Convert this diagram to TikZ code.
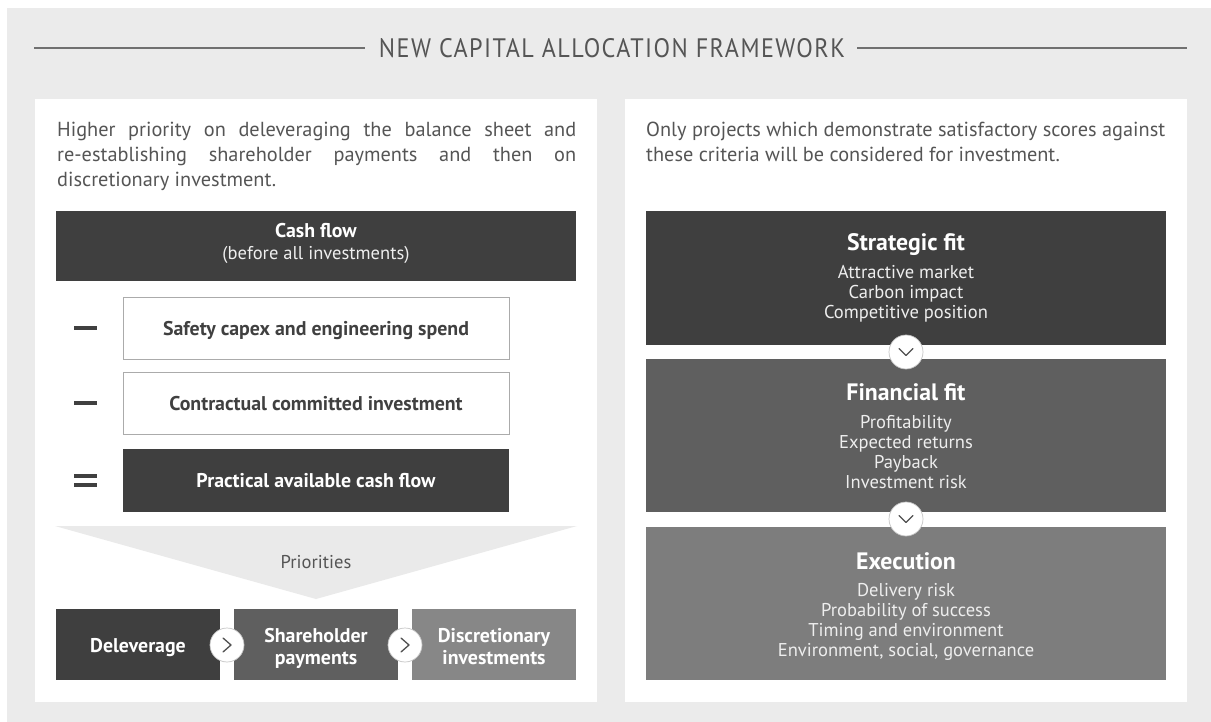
\documentclass[tikz,border=0pt]{standalone}
\usepackage{fontspec}
\usepackage{graphicx}
\setmainfont{PT Sans}
\newfontfamily\titlefont[LetterSpace=6]{PT Sans}
\definecolor{bgc}{HTML}{EBEBEB}
\definecolor{darkc}{HTML}{3F3F3F}
\definecolor{midc}{HTML}{5F5F5F}
\definecolor{lightc}{HTML}{7D7D7D}
\definecolor{discc}{HTML}{878787}
\definecolor{txt}{HTML}{555555}
\definecolor{lbl}{HTML}{404040}
\definecolor{rulec}{HTML}{707070}
\definecolor{boxline}{HTML}{ABABAB}
\definecolor{funnelc}{HTML}{EAEAEA}
\definecolor{itemc}{HTML}{EEEEEE}
\definecolor{chevc}{HTML}{505050}
\definecolor{circc}{HTML}{C4C4C4}
\begin{document}
\newlength\mw
\newcommand\calcsize[4]{\settowidth\mw{\fontsize{10pt}{12pt}\selectfont#2#4}\pgfmathsetmacro#1{10*#3/\mw}}
\calcsize\bodysz{}{519}{Only projects which demonstrate satisfactory scores against}
\calcsize\boldsz{\bfseries}{306}{Safety capex and engineering spend}
\calcsize\itemsz{}{164}{Competitive position}
\calcsize\headsz{\bfseries}{118}{Strategic fit}
\begin{tikzpicture}[x=1pt,y=-1pt,
  body/.style={font=\fontsize{\bodysz}{\bodysz}\selectfont, text=txt, inner sep=0, anchor=base west},
  blbl/.style={font=\fontsize{\boldsz}{\boldsz}\selectfont\bfseries, inner sep=0, anchor=mid, yshift=-4.5pt},
  ilbl/.style={font=\fontsize{\itemsz}{\itemsz}\selectfont, inner sep=0, anchor=mid, yshift=-4pt},
  hlbl/.style={font=\fontsize{\headsz}{\headsz}\selectfont\bfseries, text=white, inner sep=0, anchor=mid, yshift=-5pt},
  rect/.style={anchor=north west, inner sep=0, outer sep=0, draw=none},
  whitebox/.style={rect, fill=white, draw=boxline, line width=0.8pt},
  chev/.style={circle, fill=white, draw=circc, line width=0.7pt, minimum size=34pt, inner sep=0},
  chevline/.style={draw=chevc, line width=1.3pt, line cap=round, line join=round},
  signc/.style={fill=lbl}
]
\useasboundingbox (0,0) rectangle (1211,722);
\fill[bgc] (7,8) rectangle (1211,722);
% title
\node[inner sep=0, text=txt] (title) at (612,48) {\resizebox{466pt}{19pt}{\titlefont NEW CAPITAL ALLOCATION FRAMEWORK}};
\coordinate (tl) at (34,48);
\coordinate (tr) at (1187,48);
\draw[rulec, line width=1.2pt] (tl) -- ([xshift=-14pt]title.west);
\draw[rulec, line width=1.2pt] ([xshift=12pt]title.east) -- (tr);
% panels
\node[rect, fill=white, minimum width=562pt, minimum height=603pt] (lpanel) at (35,99) {};
\node[rect, fill=white, minimum width=562pt, minimum height=603pt] (rpanel) at (625,99) {};
% left text
\node[body] (l1) at (57,137) {\makebox[519pt][s]{Higher priority on deleveraging the balance sheet and}};
\node[body] (l2) at (57,162) {\makebox[519pt][s]{re-establishing shareholder payments and then on}};
\node[body] (l3) at (57,187) {discretionary investment.};
% right text
\node[body] (r1) at (646,137) {Only projects which demonstrate satisfactory scores against};
\node[body] (r2) at (646,162) {these criteria will be considered for investment.};
% cash flow
\node[rect, fill=darkc, minimum width=520pt, minimum height=70pt] (cash) at (56,211) {};
\node[blbl, text=white] (cashT) at (316,231) {Cash flow};
\node[ilbl, text=itemc] (cashS) at (316,253) {(before all investments)};
% subtractions
\node[whitebox, minimum width=386pt, minimum height=62pt] (safety) at (123,297) {};
\node[blbl, text=lbl] (safetyT) at (316,328) {Safety capex and engineering spend};
\node[whitebox, minimum width=386pt, minimum height=62pt] (contr) at (123,372) {};
\node[blbl, text=lbl] (contrT) at (316,403) {Contractual committed investment};
\node[rect, fill=darkc, minimum width=386pt, minimum height=63pt] (pract) at (123,449) {};
\node[blbl, text=white] (practT) at (316,480) {Practical available cash flow};
% signs
\fill[signc] (74,326) rectangle (97,330);
\fill[signc] (74,401) rectangle (97,405);
\fill[signc] (74,474) rectangle (97,478);
\fill[signc] (74,483) rectangle (97,487);
% funnel
\fill[funnelc] (55,526) -- (577,526) -- (316,599) -- cycle;
\node[ilbl, text=txt] (prio) at (316,562) {Priorities};
% priorities boxes
\node[rect, fill=darkc, minimum width=164pt, minimum height=71pt] (delev) at (56,609) {};
\node[rect, fill=midc, minimum width=164pt, minimum height=71pt] (share) at (234,609) {};
\node[rect, fill=discc, minimum width=164pt, minimum height=71pt] (disc) at (412,609) {};
\node[blbl, text=white] (delevT) at (138,645) {Deleverage};
\node[blbl, text=white] (shareT1) at (316,635) {Shareholder};
\node[blbl, text=white] (shareT2) at (316,657) {payments};
\node[blbl, text=white] (discT1) at (494,635) {Discretionary};
\node[blbl, text=white] (discT2) at (494,657) {investments};
\node[chev] (c1) at (227,645) {};
\node[chev] (c2) at (405,645) {};
\draw[chevline] ([shift={(-4,-7)}]c1.center) -- ([shift={(4,0)}]c1.center) -- ([shift={(-4,7)}]c1.center);
\draw[chevline] ([shift={(-4,-7)}]c2.center) -- ([shift={(4,0)}]c2.center) -- ([shift={(-4,7)}]c2.center);
% right column
\node[rect, fill=darkc, minimum width=520pt, minimum height=134pt] (strat) at (646,211) {};
\node[hlbl] (stratT) at (906,243) {Strategic fit};
\node[ilbl, text=itemc] (s1) at (906,272) {Attractive market};
\node[ilbl, text=itemc] (s2) at (906,292) {Carbon impact};
\node[ilbl, text=itemc] (s3) at (906,312) {Competitive position};
\node[rect, fill=midc, minimum width=520pt, minimum height=153pt] (fin) at (646,359) {};
\node[hlbl] (finT) at (906,393) {Financial fit};
\node[ilbl, text=itemc] (f1) at (906,422) {Profitability};
\node[ilbl, text=itemc] (f2) at (906,442) {Expected returns};
\node[ilbl, text=itemc] (f3) at (906,462) {Payback};
\node[ilbl, text=itemc] (f4) at (906,482) {Investment risk};
\node[rect, fill=lightc, minimum width=520pt, minimum height=153pt] (exe) at (646,527) {};
\node[hlbl] (exeT) at (906,562) {Execution};
\node[ilbl, text=itemc] (e1) at (906,590) {Delivery risk};
\node[ilbl, text=itemc] (e2) at (906,610) {Probability of success};
\node[ilbl, text=itemc] (e3) at (906,630) {Timing and environment};
\node[ilbl, text=itemc] (e4) at (906,650) {Environment, social, governance};
\node[chev] (d1) at (906,352) {};
\node[chev] (d2) at (906,519) {};
\draw[chevline] ([shift={(-7,-3.5)}]d1.center) -- ([shift={(0,3.5)}]d1.center) -- ([shift={(7,-3.5)}]d1.center);
\draw[chevline] ([shift={(-7,-3.5)}]d2.center) -- ([shift={(0,3.5)}]d2.center) -- ([shift={(7,-3.5)}]d2.center);
\end{tikzpicture}
\end{document}
